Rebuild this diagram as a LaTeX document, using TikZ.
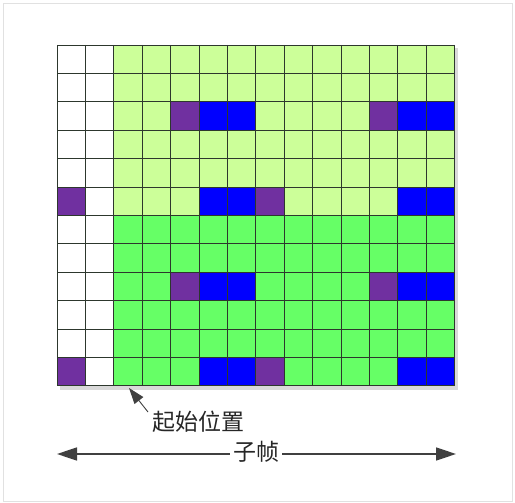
\documentclass[tikz,border=0pt]{standalone}
\usepackage{fontspec}
\newfontfamily\cjk{Noto Sans CJK SC}
\usetikzlibrary{arrows.meta}
\definecolor{lg}{RGB}{204,255,153}
\definecolor{gr}{RGB}{102,255,102}
\definecolor{pu}{RGB}{112,48,160}
\definecolor{bl}{RGB}{0,0,255}
\definecolor{gl}{RGB}{45,55,45}
\definecolor{ar}{RGB}{64,64,64}
\definecolor{fr}{RGB}{225,225,225}
\tikzset{
  gridline/.style={draw=gl, line width=0.9pt},
  label/.style={font=\cjk\fontsize{23}{25}\selectfont, text=black!85, inner sep=1pt},
  bigarrow/.style={draw=ar, line width=1.6pt, {Triangle[length=20pt,width=13pt]}-{Triangle[length=20pt,width=13pt]}},
  smallarrow/.style={draw=ar, line width=0.9pt, -{Triangle[length=16pt,width=11pt]}}
}
\newcommand{\mycell}[3]{\fill[#3] ({57+(#2-1)*28.4},{45+(#1-1)*28.4}) rectangle ++(28.4,28.4);}
\begin{document}
\begin{tikzpicture}[x=1pt,y=-1pt]
\useasboundingbox (0,0) rectangle (515,503);
\draw[fr, line width=1pt] (3.5,3.5) rectangle (512,501.5);
% shadow
\fill[gray!30] (60,48) rectangle (458,389.5);
% backgrounds
\fill[white] (57,45) rectangle (113.8,385.8);
\fill[lg] (113.8,45) rectangle (454.6,215.4);
\fill[gr] (113.8,215.4) rectangle (454.6,385.8);
% special cells
\foreach \r in {3,9} {
  \mycell{\r}{5}{pu}
  \mycell{\r}{12}{pu}
  \foreach \c in {6,7,13,14} {\mycell{\r}{\c}{bl}}
}
\foreach \r in {6,12} {
  \mycell{\r}{1}{pu}
  \mycell{\r}{8}{pu}
  \foreach \c in {6,7,13,14} {\mycell{\r}{\c}{bl}}
}
% grid lines
\foreach \i in {0,...,14} {\draw[gridline] ({57+\i*28.4},45) -- ({57+\i*28.4},385.8);}
\foreach \j in {0,...,12} {\draw[gridline] (57,{45+\j*28.4}) -- (454.6,{45+\j*28.4});}
% start label and arrow
\node[label, anchor=west] (start) at (151,422) {起始位置};
\coordinate (tail) at (148,412);
\coordinate (tip) at (129,388);
\draw[smallarrow] (tail) -- (tip);
% subframe arrow
\coordinate (L) at (57,454);
\coordinate (R) at (456,454);
\draw[bigarrow] (L) -- (R);
\node[label, fill=white, inner xsep=3pt] (sub) at (256,452) {子帧};
\end{tikzpicture}
\end{document}
